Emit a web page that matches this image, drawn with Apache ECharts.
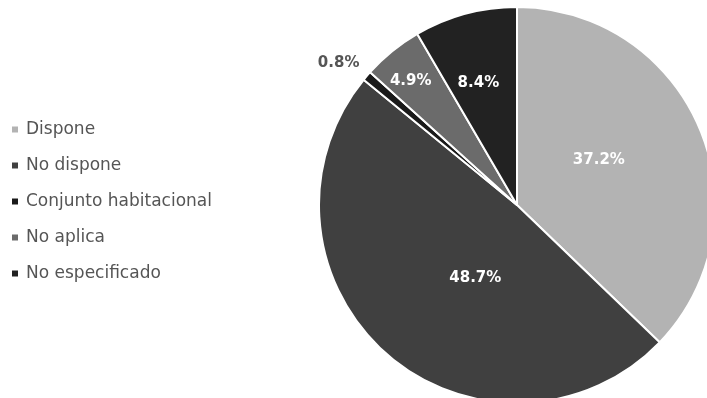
<!DOCTYPE html>
<html>
<head>
<meta charset="utf-8">
<script src="https://cdn.jsdelivr.net/npm/echarts@6/dist/echarts.min.js"></script>
<style>html,body{margin:0;padding:0;background:#fff;}#c{width:707px;height:398px;}</style>
</head>
<body>
<div id="c"></div>
<script>
const categories = ["Dispone", "No dispone", "Conjunto habitacional", "No aplica", "No especificado"];
const values = [37.2, 48.7, 0.8, 4.9, 8.4];
const colors = ["#b3b3b3", "#404040", "#1a1a1a", "#6b6b6b", "#222222"];
const labelOffsets = [[-12, -5], [26, -3], [-101, -75], [-42, -45], [-12, -23]];
const labelColors = ["#ffffff", "#ffffff", "#555555", "#ffffff", "#ffffff"];

const chart = echarts.init(document.getElementById('c'), null, {renderer: 'canvas'});
const font = "DejaVu Sans";
chart.setOption({
  animation: false,
  legend: {
    orient: 'vertical',
    left: 5,
    top: 114,
    icon: 'rect',
    itemWidth: 8,
    itemHeight: 8,
    itemGap: 15,
    textStyle: {fontFamily: font, fontSize: 17, color: '#555555', lineHeight: 21, padding: [0,0,0,2]},
    data: categories
  },
  series: [{
    type: 'pie',
    center: [517, 205],
    radius: [0, 198],
    startAngle: 90,
    clockwise: true,
    avoidLabelOverlap: false,
    itemStyle: {borderColor: '#ffffff', borderWidth: 2},
    label: {
      show: true,
      position: 'inside',
      formatter: p => p.value.toFixed(1) + '%',
      fontFamily: font,
      fontWeight: 'bold',
      fontSize: 15
    },
    labelLine: {show: false},
    labelLayout: p => ({dx: labelOffsets[p.dataIndex][0], dy: labelOffsets[p.dataIndex][1]}),
    data: categories.map((n, i) => ({
      name: n,
      value: values[i],
      itemStyle: {color: colors[i]},
      label: {color: labelColors[i]}
    }))
  }]
});
</script>
</body>
</html>
